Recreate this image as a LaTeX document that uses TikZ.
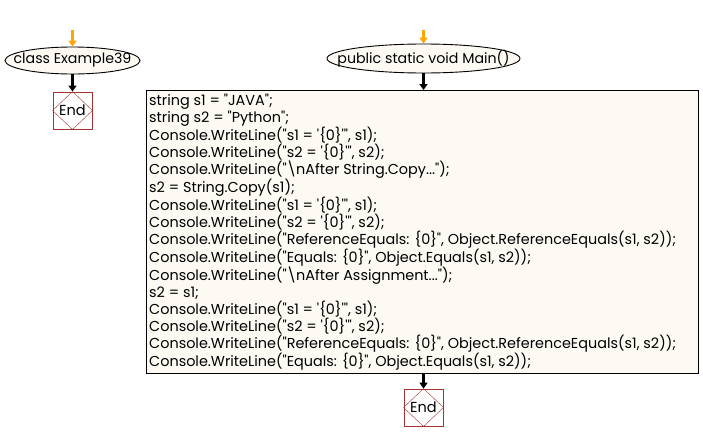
\documentclass[tikz,border=0pt]{standalone}
\usepackage{fontspec}
\setmainfont{Poppins}[Ligatures=TeXOff]
\usetikzlibrary{shapes.geometric,arrows.meta}
\definecolor{cream}{HTML}{FDFAF4}
\definecolor{endred}{HTML}{A83232}
\definecolor{orng}{HTML}{FFA500}
\tikzset{
  startnode/.style={ellipse,draw=black,fill=cream,line width=0.9pt,inner sep=0pt,font=\fontsize{14.2}{16}\selectfont},
  endbox/.style={draw=endred,fill=white,line width=0.9pt,minimum width=39pt,minimum height=37pt,inner sep=0pt,font=\fontsize{14.5}{16}\selectfont},
  codebox/.style={draw=black,fill=cream,line width=0.8pt,minimum width=552pt,minimum height=283pt,inner sep=0pt},
  codetext/.style={inner sep=0pt,align=left,font=\fontsize{14.4}{16.85}\selectfont},
  flow/.style={line width=3.2pt,-{Triangle[length=6pt,width=8pt]}},
}
\begin{document}
\begin{tikzpicture}[x=1pt,y=-1pt]
\useasboundingbox (0,0) rectangle (703,442);
% left
\node[startnode,minimum width=135pt,minimum height=27pt] (c1) at (72.5,60.5) {\makebox[0pt]{class Example39}};
\coordinate (s1) at (72.5,30);
\node[endbox] (e1) at (72.5,110.5) {End};
\draw[endred,line width=0.4pt] (e1.north) -- (e1.east) -- (e1.south) -- (e1.west) -- cycle;
\draw[flow,orng] (s1) -- (c1.north);
\draw[flow,black] (c1.south) -- (e1.north);
% right
\node[startnode,minimum width=193pt,minimum height=29pt] (m1) at (423.5,58.5) {\makebox[0pt]{public static void Main()}};
\coordinate (s2) at (423.5,30);
\node[codebox,anchor=north west] (code) at (146,90) {};
\node[codetext,anchor=north west] (ct) at (149,93.5) {%
string s1 = "JAVA";\\
string s2 = "Python";\\
Console.WriteLine("s1 = '\{0\}'", s1);\\
Console.WriteLine("s2 = '\{0\}'", s2);\\
Console.WriteLine("\textbackslash nAfter String.Copy...");\\
s2 = String.Copy(s1);\\
Console.WriteLine("s1 = '\{0\}'", s1);\\
Console.WriteLine("s2 = '\{0\}'", s2);\\
Console.WriteLine("ReferenceEquals: \{0\}", Object.ReferenceEquals(s1, s2));\\
Console.WriteLine("Equals: \{0\}", Object.Equals(s1, s2));\\
Console.WriteLine("\textbackslash nAfter Assignment...");\\
s2 = s1;\\
Console.WriteLine("s1 = '\{0\}'", s1);\\
Console.WriteLine("s2 = '\{0\}'", s2);\\
Console.WriteLine("ReferenceEquals: \{0\}", Object.ReferenceEquals(s1, s2));\\
Console.WriteLine("Equals: \{0\}", Object.Equals(s1, s2));};
\node[endbox] (e2) at (423.5,407.5) {End};
\draw[endred,line width=0.4pt] (e2.north) -- (e2.east) -- (e2.south) -- (e2.west) -- cycle;
\draw[flow,orng] (s2) -- (m1.north);
\draw[flow,black] (m1.south) -- (m1.south |- code.north);
\draw[flow,black] (code.south -| e2.north) -- (e2.north);
\end{tikzpicture}
\end{document}
